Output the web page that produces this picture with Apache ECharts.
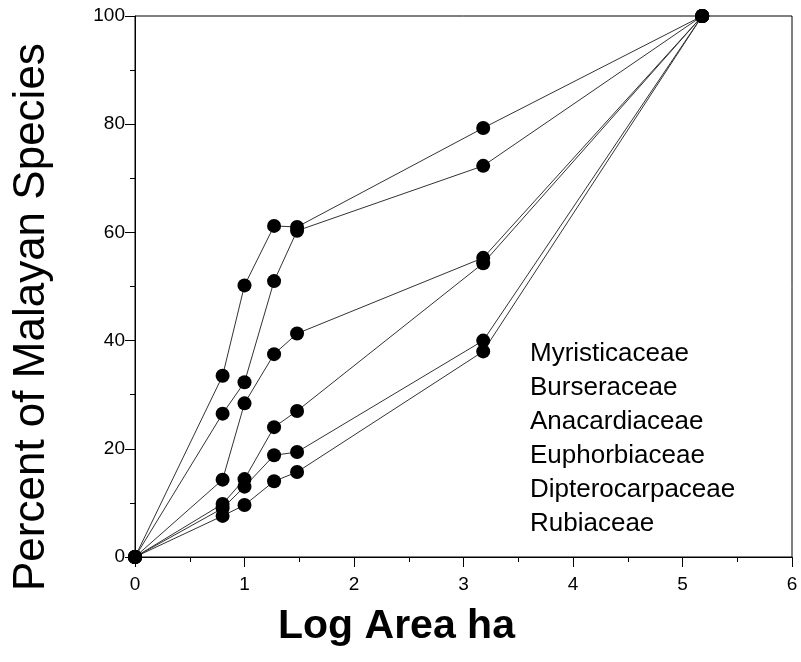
<!DOCTYPE html>
<html>
<head>
<meta charset="utf-8">
<script src="https://cdn.jsdelivr.net/npm/echarts@6/dist/echarts.min.js"></script>
<style>
html,body{margin:0;padding:0;background:#fff;}
#chart{width:801px;height:662px;}
</style>
</head>
<body>
<div id="chart"></div>
<script>
// Log area (ha) at which each family was sampled
const logArea = [0, 0.8, 1.0, 1.27, 1.48, 3.18, 5.18];
const familyNames = ['Myristicaceae', 'Burseraceae', 'Anacardiaceae', 'Euphorbiaceae', 'Dipterocarpaceae', 'Rubiaceae'];
// Percent of Malayan species, one array per family
const myristicaceae    = [0, 33.5, 50.2, 61.2, 61.0, 79.3, 100];
const burseraceae      = [0, 26.5, 32.3, 51.0, 60.3, 72.3, 100];
const anacardiaceae    = [0, 14.3, 28.4, 37.5, 41.3, 55.3, 100];
const euphorbiaceae    = [0, 9.8, 14.4, 24.0, 27.0, 54.3, 100];
const dipterocarpaceae = [0, 9.0, 13.0, 18.8, 19.4, 40.0, 100];
const rubiaceae        = [0, 7.6, 9.6, 14.0, 15.7, 38.0, 100];
const xTicks = [0, 1, 2, 3, 4, 5, 6];
const yTicks = [0, 20, 40, 60, 80, 100];

const seriesValues = [myristicaceae, burseraceae, anacardiaceae, euphorbiaceae, dipterocarpaceae, rubiaceae];

const chart = echarts.init(document.getElementById('chart'), null, {renderer: 'canvas'});
const font = 'Liberation Sans, Arial, sans-serif';

const series = seriesValues.map((vals, i) => ({
  name: familyNames[i],
  type: 'line',
  data: vals.map((v, j) => [logArea[j], v]),
  symbol: 'circle',
  symbolSize: 14,
  itemStyle: {color: '#000'},
  lineStyle: {color: '#333', width: 1},
  emphasis: {disabled: true},
  z: 3
}));

chart.setOption({
  animation: false,
  backgroundColor: '#fff',
  grid: {left: 135, right: 9, top: 16, bottom: 105, show: true, borderColor: '#000', borderWidth: 1},
  legend: {
    orient: 'vertical',
    left: 520,
    top: 332,
    icon: 'none',
    itemWidth: 0,
    itemHeight: 14,
    itemGap: 0,
    selectedMode: false,
    data: familyNames,
    textStyle: {fontFamily: font, fontSize: 26, color: '#000', lineHeight: 34, padding: 0}
  },
  xAxis: {
    type: 'value',
    min: xTicks[0],
    max: xTicks[xTicks.length - 1],
    interval: 1,
    axisLine: {show: true, onZero: false, lineStyle: {color: '#000', width: 1}},
    axisTick: {show: true, inside: false, length: 10, lineStyle: {color: '#000'}},
    minorTick: {show: true, splitNumber: 2, length: 5, lineStyle: {color: '#000'}},
    splitLine: {show: false},
    axisLabel: {fontFamily: font, fontSize: 19, color: '#000', margin: 18}
  },
  yAxis: {
    type: 'value',
    min: yTicks[0],
    max: yTicks[yTicks.length - 1],
    interval: 20,
    axisLine: {show: true, onZero: false, lineStyle: {color: '#000', width: 1}},
    axisTick: {show: true, inside: false, length: 10, lineStyle: {color: '#000'}},
    minorTick: {show: true, splitNumber: 2, length: 5, lineStyle: {color: '#000'}},
    splitLine: {show: false},
    axisLabel: {fontFamily: font, fontSize: 19, color: '#000', margin: 10}
  },
  graphic: [
    {
      type: 'text',
      left: 278,
      top: 606,
      style: {text: 'Log Area ha', font: 'bold 41px ' + font, fill: '#000'}
    },
    {
      type: 'text',
      x: 10,
      y: 591,
      rotation: Math.PI / 2,
      style: {text: 'Percent of Malayan Species', font: '44px ' + font, fill: '#000', textVerticalAlign: 'top', textAlign: 'left'}
    }
  ],
  series: series
});
</script>
</body>
</html>
